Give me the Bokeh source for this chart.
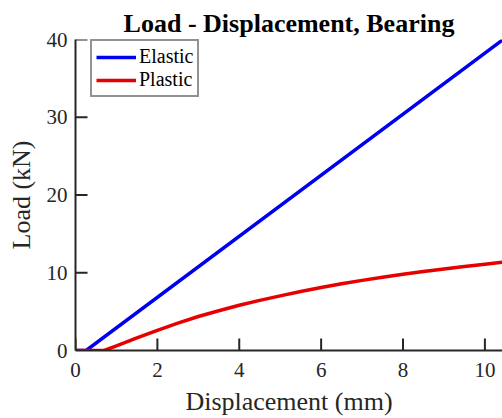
from bokeh.plotting import figure
from bokeh.models import Range1d, FixedTicker, Legend, LegendItem
from bokeh.embed import file_html
from bokeh.resources import INLINE

# Load-displacement response of the bearing
disp_elastic = [0.0, 0.26, 10.6]
load_elastic = [0.0, 0.0, 40.6]

disp_plastic = [0.0, 0.7, 1.0, 1.5, 2.0, 2.5, 3.0, 3.5, 4.0, 4.5, 5.0, 5.5,
                6.0, 6.5, 7.0, 7.5, 8.0, 8.5, 9.0, 9.5, 10.0, 10.5]
load_plastic = [0.0, 0.0, 0.6, 1.62, 2.6, 3.52, 4.37, 5.12, 5.82, 6.45, 7.03, 7.58,
                8.1, 8.58, 9.02, 9.42, 9.8, 10.15, 10.48, 10.8, 11.1, 11.4]

x_ticks = [0, 2, 4, 6, 8, 10]
y_ticks = [0, 10, 20, 30, 40]

SERIF = "Liberation Serif"
AXIS_COLOR = "#262626"

X_MAX, Y_MAX = 10.43, 40
FRAME_W, FRAME_H = 427, 311   # plot area in pixels
TICK_PX = 12                  # inward tick length

p = figure(width=502, height=418, output_backend="svg", toolbar_location=None,
           x_range=Range1d(0, X_MAX), y_range=Range1d(0, Y_MAX),
           min_border_left=75, min_border_right=0, min_border_top=39,
           min_border_bottom=68, title="Load - Displacement, Bearing")

p.title.text_font = SERIF
p.title.text_font_size = "26px"
p.title.text_font_style = "bold"
p.title.text_color = "#000000"
p.title.align = "center"
p.title.standoff = 4

p.outline_line_color = None
p.grid.visible = False
p.background_fill_color = "white"
p.border_fill_color = "white"

for ax in (p.xaxis[0], p.yaxis[0]):
    ax.axis_line_color = AXIS_COLOR
    ax.axis_line_width = 2
    ax.major_tick_line_color = AXIS_COLOR
    ax.major_tick_line_width = 2
    ax.major_tick_in = 0
    ax.major_tick_out = 0
    ax.minor_tick_line_color = None
    ax.major_label_text_font = SERIF
    ax.major_label_text_font_size = "21px"
    ax.major_label_text_color = "#262626"
    ax.axis_label_text_font = SERIF
    ax.axis_label_text_font_size = "26px"
    ax.axis_label_text_font_style = "normal"
    ax.axis_label_text_color = "#262626"

p.xaxis.ticker = FixedTicker(ticks=x_ticks)
p.yaxis.ticker = FixedTicker(ticks=y_ticks)
p.xaxis.axis_label = "Displacement (mm)"
p.yaxis.axis_label = "Load (kN)"
p.xaxis.major_label_standoff = 12
p.yaxis.major_label_standoff = 8
p.xaxis.axis_label_standoff = 7
p.yaxis.axis_label_standoff = 8

# inward-pointing tick marks drawn inside the plot area
x_tick_len = TICK_PX * Y_MAX / FRAME_H
y_tick_len = TICK_PX * X_MAX / FRAME_W
p.segment(x0=x_ticks, y0=[0] * len(x_ticks), x1=x_ticks, y1=[x_tick_len] * len(x_ticks),
          line_color=AXIS_COLOR, line_width=2)
p.segment(x0=[0] * len(y_ticks), y0=y_ticks, x1=[y_tick_len] * len(y_ticks), y1=y_ticks,
          line_color=AXIS_COLOR, line_width=2)

r_el = p.line(disp_elastic, load_elastic, line_color="#0000f0", line_width=3.5)
r_pl = p.line(disp_plastic, load_plastic, line_color="#e60000", line_width=3.5)

legend = Legend(items=[LegendItem(label="Elastic", renderers=[r_el]),
                       LegendItem(label="Plastic", renderers=[r_pl])],
                location=(15, 253))
legend.label_text_font = SERIF
legend.label_text_font_size = "20px"
legend.label_text_color = "#000000"
legend.label_standoff = 3
legend.label_height = 20
legend.glyph_width = 40
legend.glyph_height = 18
legend.spacing = 0
legend.padding = 4
legend.margin = 0
legend.border_line_color = "#262626"
legend.border_line_width = 2
legend.background_fill_color = "white"
legend.background_fill_alpha = 1
p.add_layout(legend, "center")

open("out.html", "w").write(file_html(p, INLINE))
